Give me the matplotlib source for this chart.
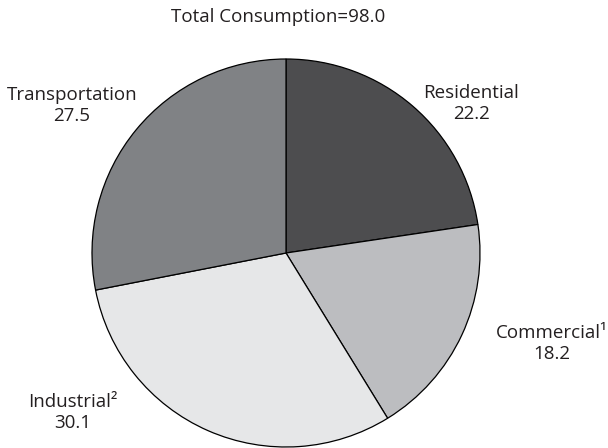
import matplotlib
matplotlib.use("Agg")
import matplotlib.pyplot as plt

categories = ["Residential", "Commercial¹", "Industrial²", "Transportation"]
values = [22.2, 18.2, 30.1, 27.5]
colors = ["#4d4d4f", "#bcbdc0", "#e6e7e8", "#808285"]
title = "Total Consumption=98.0"

plt.rcParams['font.family'] = ['Open Sans', 'DejaVu Sans']

W, H = 608, 448
fig = plt.figure(figsize=(W / 100, H / 100), dpi=100)
ax = fig.add_axes([0, 0, 1, 1])
ax.set_xlim(0, W)
ax.set_ylim(0, H)
ax.set_aspect('equal')
ax.axis('off')

ax.pie(values, colors=colors, startangle=90, counterclock=False,
       center=(286, H - 253), radius=194,
       wedgeprops=dict(edgecolor='black', linewidth=0.9))
ax.set_xlim(0, W)
ax.set_ylim(0, H)

# fit font size so that "Residential" is about 96 px wide, as in the reference
renderer = fig.canvas.get_renderer()
probe = ax.text(0, 0, "Residential", fontsize=10)
w10 = probe.get_window_extent(renderer).width
probe.remove()
fs = 10 * 96 / w10

txtcol = '#231f20'
# (center x, baseline of first line) in pixels from top
label_pos = [(471, 98), (552, 338), (73, 407), (72, 100)]
gap = 21
for name, v, (x, y) in zip(categories, values, label_pos):
    ax.text(x, H - y, name, ha='center', va='baseline', fontsize=fs, color=txtcol, zorder=5)
    ax.text(x, H - y - gap, f"{v:.1f}", ha='center', va='baseline', fontsize=fs, color=txtcol, zorder=5)

ax.text(278, H - 21.7, title, ha='center', va='baseline', fontsize=fs, color=txtcol)

fig.savefig("out.png", dpi=100)
